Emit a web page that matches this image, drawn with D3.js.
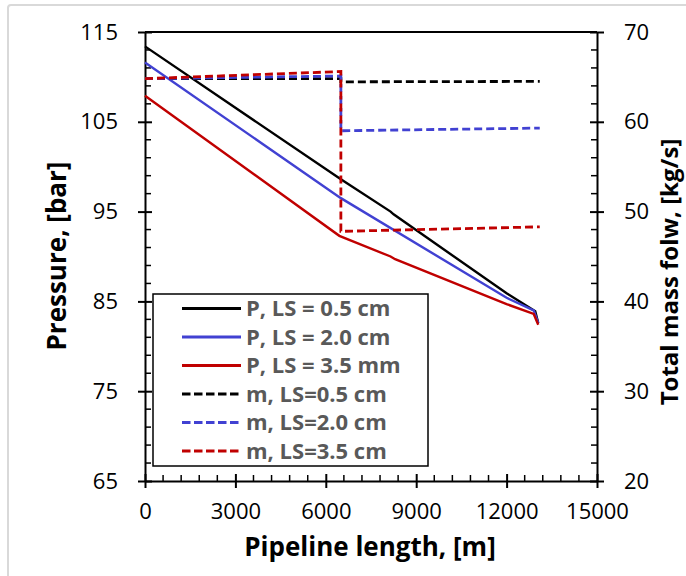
<!DOCTYPE html>
<html>
<head>
<meta charset="utf-8">
<script src="https://cdn.jsdelivr.net/npm/d3@7"></script>
<style>
    body { margin: 0; background: #fff; }
    text { font-family: "Open Sans", sans-serif; }
</style>
</head>
<body>
<svg id="chart" width="686" height="576"></svg>
<script>
// pressure profiles, [m] vs [bar]
let lengthP05 = [0, 6500, 8150, 8250, 12000, 12950, 13050];
let pressP05 = [113.4, 98.6, 95.0, 94.7, 85.9, 83.9, 82.6];
let lengthP20 = [0, 6500, 12000, 12900, 13050];
let pressP20 = [111.6, 96.5, 85.4, 84.0, 82.6];
let lengthP35 = [0, 6450, 8150, 8300, 12000, 12900, 13050];
let pressP35 = [107.9, 92.3, 90.0, 89.7, 84.7, 83.6, 82.4];

// total mass flow, [kg/s]
let lengthM = [0, 6500, 6500, 13100];
let massM05 = [64.8, 64.8, 64.45, 64.5];
let massM20 = [64.8, 65.1, 59.0, 59.3];
let massM35 = [64.8, 65.6, 47.8, 48.3];

let xTicks = [0, 3000, 6000, 9000, 12000, 15000];
let pTicks = [65, 75, 85, 95, 105, 115];
let mTicks = [20, 30, 40, 50, 60, 70];

let legendLabels = ["P, LS = 0.5 cm", "P, LS = 2.0 cm", "P, LS = 3.5 mm",
                    "m, LS=0.5 cm", "m, LS=2.0 cm", "m, LS=3.5 cm"];

let colors = ["#000000", "#4141d2", "#c00000"];

let svg = d3.select("#chart");

// light frame round the picture
svg.append("rect")
    .attr("x", 8).attr("y", 5)
    .attr("width", 700).attr("height", 600)
    .attr("rx", 3)
    .style("fill", "none")
    .style("stroke", "#d9d9d9")
    .style("stroke-width", 2);

let plotLeft = 145, plotRight = 597, plotTop = 32, plotBottom = 481;

let xScale = d3.scaleLinear().domain([0, 15000]).range([plotLeft, plotRight]);
let pScale = d3.scaleLinear().domain([65, 115]).range([plotBottom, plotTop]);
let mScale = d3.scaleLinear().domain([20, 70]).range([plotBottom, plotTop]);

// top border
svg.append("line")
    .attr("x1", plotLeft).attr("x2", plotRight)
    .attr("y1", plotTop).attr("y2", plotTop)
    .style("stroke", "#000").style("stroke-width", 2);

// minor ticks (inside)
let minorX = d3.range(0, 15001, 600).filter(v => v % 3000 != 0);
let minorP = d3.range(65, 115.1, 2).filter(v => (v - 65) % 10 != 0);
let minorM = d3.range(20, 70.1, 2).filter(v => v % 10 != 0);

let ticks = svg.append("g").style("stroke", "#000").style("stroke-width", 1.5);
ticks.selectAll(".mx").data(minorX).enter().append("line")
    .attr("x1", d => xScale(d)).attr("x2", d => xScale(d))
    .attr("y1", plotBottom).attr("y2", plotBottom - 6);
ticks.selectAll(".mp").data(minorP).enter().append("line")
    .attr("x1", plotLeft).attr("x2", plotLeft + 6)
    .attr("y1", d => pScale(d)).attr("y2", d => pScale(d));
ticks.selectAll(".mm").data(minorM).enter().append("line")
    .attr("x1", plotRight).attr("x2", plotRight - 6)
    .attr("y1", d => mScale(d)).attr("y2", d => mScale(d));

// axes with crossing major ticks
let xAxis = svg.append("g")
    .attr("transform", "translate(0," + plotBottom + ")")
    .call(d3.axisBottom(xScale).tickValues(xTicks).tickFormat(d3.format("d"))
        .tickSize(7).tickSizeOuter(0).tickPadding(15));
xAxis.selectAll(".tick line").attr("y1", -7);

let pAxis = svg.append("g")
    .attr("transform", "translate(" + plotLeft + ",0)")
    .call(d3.axisLeft(pScale).tickValues(pTicks).tickSize(7).tickSizeOuter(0).tickPadding(20));
pAxis.selectAll(".tick line").attr("x1", 7);

let mAxis = svg.append("g")
    .attr("transform", "translate(" + plotRight + ",0)")
    .call(d3.axisRight(mScale).tickValues(mTicks).tickSize(7).tickSizeOuter(0).tickPadding(20));
mAxis.selectAll(".tick line").attr("x1", -7);

[xAxis, pAxis, mAxis].forEach(function (a) {
    a.select(".domain").style("stroke", "#000").style("stroke-width", 2);
    a.selectAll(".tick line").style("stroke", "#000").style("stroke-width", 2);
    a.selectAll("text")
        .style("font-size", "22px")
        .style("fill", "#000")
        .style("font-family", "'Open Sans', sans-serif");
});
xAxis.selectAll("text").attr("dy", "0.71em");

// axis titles
svg.append("text")
    .attr("x", 370).attr("y", 556)
    .attr("text-anchor", "middle")
    .style("font-size", "26px").style("font-weight", "bold")
    .text("Pipeline length, [m]");

svg.append("text")
    .attr("transform", "translate(66,256) rotate(-90)")
    .attr("text-anchor", "middle")
    .style("font-size", "26px").style("font-weight", "bold")
    .text("Pressure, [bar]");

svg.append("text")
    .attr("transform", "translate(678,272) rotate(-90)")
    .attr("text-anchor", "middle")
    .style("font-size", "24px").style("font-weight", "bold")
    .text("Total mass folw, [kg/s]");

// curves
let zipper = (xs, ys) => xs.map((v, i) => [v, ys[i]]);
let pLine = d3.line().x(d => xScale(d[0])).y(d => pScale(d[1]));
let mLine = d3.line().x(d => xScale(d[0])).y(d => mScale(d[1]));

let pSeries = [zipper(lengthP05, pressP05), zipper(lengthP20, pressP20), zipper(lengthP35, pressP35)];
let mSeries = [zipper(lengthM, massM05), zipper(lengthM, massM20), zipper(lengthM, massM35)];

svg.append("g").selectAll("path").data(pSeries).enter().append("path")
    .attr("d", pLine)
    .style("fill", "none")
    .style("stroke", (d, i) => colors[i])
    .style("stroke-width", 2.4);

svg.append("g").selectAll("path").data(mSeries).enter().append("path")
    .attr("d", mLine)
    .style("fill", "none")
    .style("stroke", (d, i) => colors[i])
    .style("stroke-width", 2.8)
    .style("stroke-dasharray", "8,4");

// legend
let legend = svg.append("g");
legend.append("rect")
    .attr("x", 153).attr("y", 294)
    .attr("width", 275).attr("height", 172)
    .style("fill", "#fff")
    .style("stroke", "#000")
    .style("stroke-width", 1.5);

let rows = legend.selectAll(".row").data(legendLabels).enter().append("g")
    .attr("transform", (d, i) => "translate(0," + (308.5 + i * 28.5) + ")");
rows.append("line")
    .attr("x1", 182).attr("x2", 241)
    .style("stroke", (d, i) => colors[i % 3])
    .style("stroke-width", 3)
    .style("stroke-dasharray", (d, i) => i < 3 ? null : "8.5,3.5");
rows.append("text")
    .attr("x", 246).attr("dy", "0.36em")
    .style("font-size", "22px").style("font-weight", "bold")
    .style("fill", "#595959")
    .text(d => d);
</script>
</body>
</html>
